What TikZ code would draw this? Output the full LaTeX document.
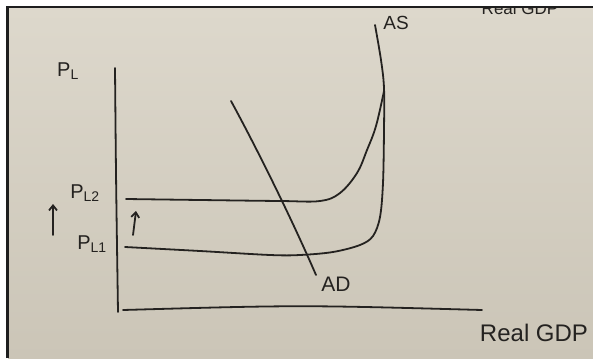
\documentclass[tikz,border=0pt]{standalone}
\usepackage{fontspec}
\setmainfont{Liberation Sans}
\usetikzlibrary{arrows.meta}
\definecolor{ink}{RGB}{36,34,32}
\definecolor{papertop}{RGB}{221,216,204}
\definecolor{paperbot}{RGB}{203,197,183}
\definecolor{frame}{RGB}{30,30,30}
\tikzset{
  pen/.style={draw=ink, line width=1.8pt, line cap=round, line join=round},
  lbl/.style={text=ink, inner sep=0pt, font=\fontsize{20}{20}\selectfont},
  uparrow/.style={pen, -{Straight Barb[length=5pt,width=8pt]}},
}
\begin{document}
\begin{tikzpicture}[x=1pt,y=-1pt]
\useasboundingbox (0,0) rectangle (593,358);
\fill[white] (0,0) rectangle (593,358);
\shade[top color=papertop, bottom color=paperbot] (8,8) rectangle (593,358);
% cut-off text at top edge
\begin{scope}
\clip (8,9) rectangle (593,358);
\node[lbl, anchor=base, font=\fontsize{17}{17}\selectfont] (topgdp) at (520,15) {Real GDP};
\end{scope}
\draw[frame, line width=2.6pt] (7.5,358) -- (7.5,7) -- (593,7);
% axes
\coordinate (ytop) at (115,68);
\coordinate (ybot) at (118,312);
\draw[pen] (ytop) .. controls (116,180) .. (ybot);
\coordinate (xl) at (123,310);
\coordinate (xr) at (482,310);
\draw[pen] (xl) .. controls (300,305) .. (xr);
% AS2 (P_L2 level) curve
\coordinate (as2l) at (126,199);
\coordinate (as2r) at (384,91);
\draw[pen] plot[smooth, tension=0.6] coordinates {(126,199) (200,200) (280,201) (320,201) (340,193) (357,173) (367,150) (376,126) (384,91)};
% AS1 curve (with vertical section)
\draw[pen] plot[smooth, tension=0.55] coordinates {(125,247) (200,251) (270,255) (300,255) (333,252) (360,245) (373,236) (380,217) (383,183) (384,130) (384,88) (381,60) (375,25)};
% AD
\coordinate (adt) at (231,101);
\coordinate (adb) at (316,275);
\draw[pen] (adt) .. controls (255,145) and (290,215) .. (adb);
% arrows
\coordinate (a1b) at (53,235);
\coordinate (a1t) at (53,204);
\draw[uparrow] (a1b) -- (a1t);
\coordinate (a2b) at (133,235);
\coordinate (a2t) at (136,211);
\draw[uparrow] (a2b) -- (a2t);
% labels
\node[lbl] (pl) at (68,71) {P\textsubscript{L}};
\node[lbl] (pl2) at (85,193) {P\textsubscript{L2}};
\node[lbl] (pl1) at (92,244) {P\textsubscript{L1}};
\node[lbl, font=\fontsize{19}{19}\selectfont] (as) at (396,23) {AS};
\node[lbl, font=\fontsize{21}{21}\selectfont] (ad) at (336,284) {AD};
\node[lbl, font=\fontsize{24}{24}\selectfont] (gdp) at (534,333) {Real GDP};
\end{tikzpicture}
\end{document}
